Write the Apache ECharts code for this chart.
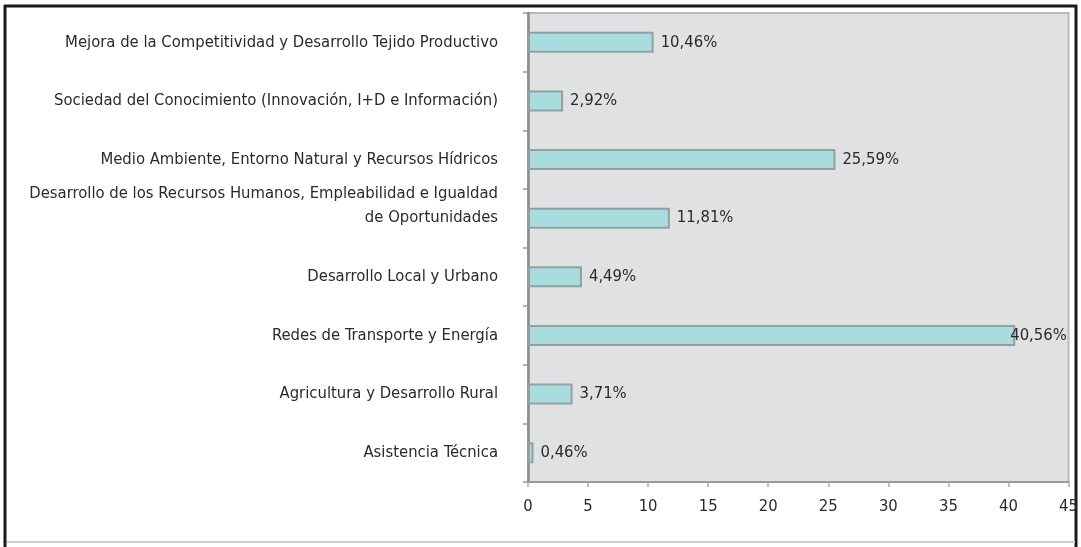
<!DOCTYPE html>
<html>
<head>
<meta charset="utf-8">
<script src="https://cdn.jsdelivr.net/npm/echarts@6/dist/echarts.min.js"></script>
<style>
html,body{margin:0;padding:0;background:#fff;}
#chart{width:1081px;height:547px;}
</style>
</head>
<body>
<div id="chart"></div>
<script>
const categories = [
  'Mejora de la Competitividad y Desarrollo Tejido Productivo',
  'Sociedad del Conocimiento (Innovación, I+D e Información)',
  'Medio Ambiente, Entorno Natural y Recursos Hídricos',
  'Desarrollo de los Recursos Humanos, Empleabilidad e Igualdad\nde Oportunidades',
  'Desarrollo Local y Urbano',
  'Redes de Transporte y Energía',
  'Agricultura y Desarrollo Rural',
  'Asistencia Técnica'
];
const values = [10.46, 2.92, 25.59, 11.81, 4.49, 40.56, 3.71, 0.46];
const xTicks = [0, 5, 10, 15, 20, 25, 30, 35, 40, 45];

const FONT = '"DejaVu Sans Condensed", "DejaVu Sans", sans-serif';
const FS = 16.5;
const chart = echarts.init(document.getElementById('chart'));
const seriesData = values.map(v => v > 40
  ? { value: v, label: { distance: -5 } }
  : { value: v });
chart.setOption({
  animation: false,
  backgroundColor: '#ffffff',
  grid: {
    left: 528, top: 13, right: 11, bottom: 65,
    show: true, backgroundColor: '#e0e1e3', borderColor: '#b9b9b9', borderWidth: 2
  },
  xAxis: {
    type: 'value', min: xTicks[0], max: xTicks[xTicks.length - 1], interval: 5,
    splitLine: { show: false },
    axisLine: { show: true, lineStyle: { color: '#9a9a9a', width: 2 } },
    axisTick: { show: true, length: 5, lineStyle: { color: '#aaaaaa', width: 1.5 } },
    axisLabel: { color: '#2a2a2a', fontFamily: FONT, fontSize: FS, margin: 16,
      formatter: v => String(v) }
  },
  yAxis: {
    type: 'category', data: categories, inverse: true,
    axisLine: { show: true, lineStyle: { color: '#8a8a8a', width: 2.5 } },
    axisTick: { show: true, length: 5, lineStyle: { color: '#9a9a9a', width: 1.5 } },
    axisLabel: { color: '#2a2a2a', fontFamily: FONT, fontSize: FS, margin: 30, lineHeight: 24,
      formatter: v => v.indexOf('\n') >= 0 ? v + '\n ' : v }
  },
  series: [{
    type: 'bar', data: seriesData, barWidth: 21,
    itemStyle: { color: '#a8dcdf', borderColor: '#949f9f', borderWidth: 2 },
    label: { show: true, position: 'right', distance: 7, color: '#2a2a2a', fontFamily: FONT, fontSize: FS,
      formatter: p => p.value.toFixed(2).replace('.', ',') + '%' }
  }],
  graphic: [
    { type: 'line', shape: { x1: 4, y1: 6, x2: 1077, y2: 6 }, style: { stroke: '#1a1a1a', lineWidth: 3 } },
    { type: 'line', shape: { x1: 5, y1: 5, x2: 5, y2: 547 }, style: { stroke: '#1a1a1a', lineWidth: 3 } },
    { type: 'line', shape: { x1: 1076, y1: 5, x2: 1076, y2: 547 }, style: { stroke: '#1a1a1a', lineWidth: 3 } },
    { type: 'line', shape: { x1: 7, y1: 542, x2: 1075, y2: 542 }, style: { stroke: '#cfcfcf', lineWidth: 2 } }
  ]
});
</script>
</body>
</html>
